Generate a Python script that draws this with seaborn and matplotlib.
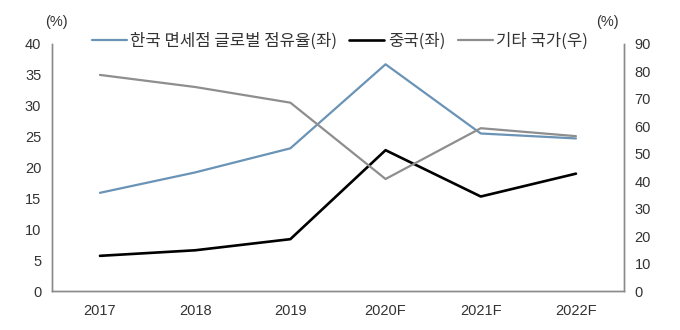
import matplotlib
matplotlib.use("Agg")
import matplotlib.pyplot as plt
import seaborn as sns
import pandas as pd
from matplotlib.lines import Line2D

years = ["2017", "2018", "2019", "2020F", "2021F", "2022F"]
korea_share = [15.9, 19.2, 23.1, 36.7, 25.5, 24.7]   # left axis
china_share = [5.7, 6.6, 8.4, 22.8, 15.3, 19.0]      # left axis
other_share = [78.7, 74.3, 68.6, 40.8, 59.3, 56.4]   # right axis

label_korea = "한국 면세점 글로벌 점유율(좌)"
label_china = "중국(좌)"
label_other = "기타 국가(우)"

c_korea = "#6a93b6"
c_china = "#000000"
c_other = "#8e8e8e"
spine_c = "#8a8a8a"
text_c = "#333333"

sns.set_theme(style="white")
plt.rcParams["font.family"] = ["Liberation Sans", "Noto Sans CJK KR", "DejaVu Sans"]

df = pd.DataFrame({"year": years, "korea": korea_share,
                   "china": china_share, "other": other_share})

fig = plt.figure(figsize=(6.8, 3.3), dpi=100)
ax = fig.add_axes([0.077, 0.118, 0.840, 0.749])
ax2 = ax.twinx()

sns.lineplot(data=df, x="year", y="korea", ax=ax, color=c_korea, lw=1.6, sort=False)
sns.lineplot(data=df, x="year", y="china", ax=ax, color=c_china, lw=1.9, sort=False)
sns.lineplot(data=df, x="year", y="other", ax=ax2, color=c_other, lw=1.6, sort=False)

ax.set_xlim(-0.5, len(years) - 0.5)
ax.set_ylim(0, 40)
ax2.set_ylim(0, 90)
ax.set_yticks(range(0, 41, 5))
ax2.set_yticks(range(0, 91, 10))
ax.set_xticks(range(len(years)))
ax.set_xticklabels(years)
ax.set_xticks([i - 0.5 for i in range(len(years) + 1)], minor=True)

for a in (ax, ax2):
    a.set_xlabel("")
    a.set_ylabel("")
    a.spines["top"].set_visible(False)
    for s in ("left", "right", "bottom"):
        a.spines[s].set_color(spine_c)
        a.spines[s].set_linewidth(1.0)
    a.tick_params(axis="y", length=0, labelsize=10.5, colors=text_c, pad=8)
    a.grid(False)
ax.tick_params(axis="x", which="both", direction="in", length=4, width=0.8,
               color=spine_c, labelsize=10.5, labelcolor=text_c, pad=9)

ax.text(0.008, 1.09, "(%)", transform=ax.transAxes, ha="center", va="center",
        fontsize=10.5, color=text_c)
ax.text(0.971, 1.09, "(%)", transform=ax.transAxes, ha="center", va="center",
        fontsize=10.5, color=text_c)

handles = [Line2D([], [], color=c_korea, lw=1.6),
           Line2D([], [], color=c_china, lw=1.9),
           Line2D([], [], color=c_other, lw=1.6)]
ax.legend(handles, [label_korea, label_china, label_other], loc="center",
          bbox_to_anchor=(0.503, 1.01), ncol=3, frameon=False,
          prop={"family": ["Noto Sans CJK KR", "DejaVu Sans"], "size": 12},
          handlelength=2.1, handletextpad=0.2, columnspacing=0.75,
          labelcolor=text_c)

fig.savefig("out.png", dpi=100, facecolor="white")
